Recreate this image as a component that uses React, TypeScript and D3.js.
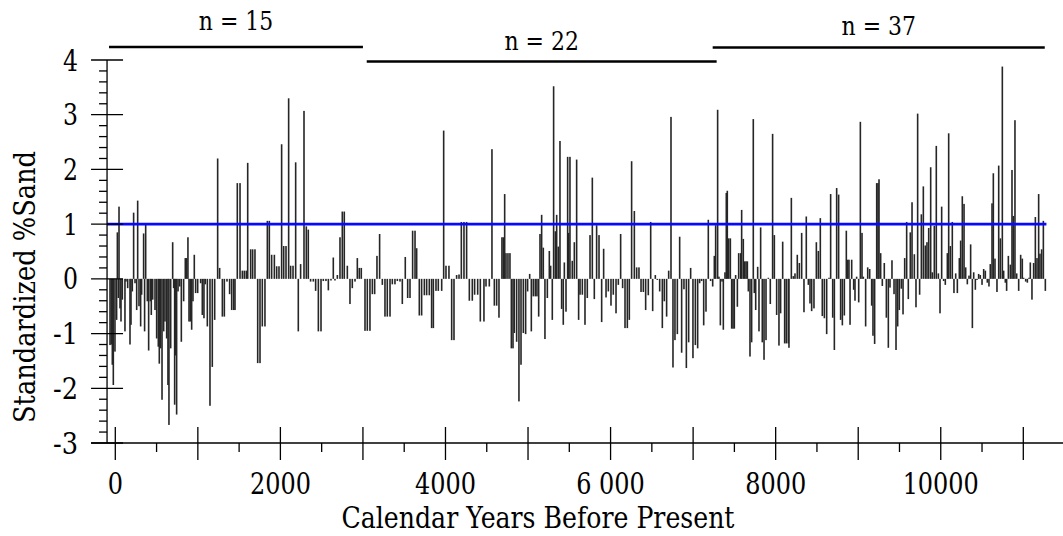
import React from "react";
import * as d3 from "d3";

// ---- data: years before present and standardized %sand ----
const years1 = [-64,-48,-36,-24,-4,16,25,37,45,57,69,85,117,129,150,178,190,206,222,239,259,271,287,307,319,343,355,368,388,404,424,436,453,481,501,521,533,549,566,586,602,622,638,650,671,695,707,719,731,743,760,780,800,828,848,864,880,893,909,925,941,957,973,998,1034,1054,1074,1090,1115,1147,1175,1204,1240,1264,1297,1321,1353,1385,1410,1434,1450];
const sand1 = [-1.21,-1.2,-1.57,-1.94,-1.33,-0.75,0.85,-0.35,1.32,-0.54,-0.78,-0.38,-0.96,-0.05,-0.17,-1.2,-0.84,-0.23,1.21,-0.08,-0.57,1.43,-0.5,-0.87,-0.29,0.83,-0.96,0.99,-0.41,-1.31,-0.41,-0.66,-0.38,-0.57,-1.09,-1.24,-1.55,-1.27,-2.21,-0.96,-0.78,-1.09,-1.94,-2.67,-1.27,0.67,-0.17,-2.3,-1.4,-2.48,-0.23,-0.14,-1.15,-0.41,0.38,0.38,0.76,-0.78,-0.78,-0.93,-0.41,0.44,-0.26,-0.26,-0.08,-0.66,-0.72,-0.1,-0.87,-2.32,-1.61,-0.75,2.2,0.2,-0.69,-0.69,-0.05,-0.28,-0.57,-0.57,-0.57];

const years2 = [1478,1511,1539,1563,1587,1604,1640,1664,1692,1725,1753,1781,1813,1842,1866,1894,1927,1955,1983,2015,2040,2068,2100,2124,2153,2185,2217,2245,2286,2314,2338,2366,2399,2427,2460,2492,2520,2552,2581,2613,2641,2661,2690,2722,2750,2774];
const sand2 = [1.75,1.75,0.15,0.15,0.15,2.12,0.54,0.54,0.54,-1.54,-1.54,-0.87,-0.87,1.06,1.06,0.44,0.44,0.23,0.23,2.46,0.6,0.6,3.3,0.24,0.24,2.13,-0.96,0.27,3.07,0.96,0.9,-0.05,-0.05,-0.22,-0.96,-0.96,-0.04,-0.04,-0.21,-0.03,0.39,-0.03,0.07,0.76,1.23,1.23];

const years3 = [2811,2843,2871,2904,2932,2956,2980,3025,3053,3085,3114,3142,3170,3202,3235,3267,3295,3328,3356,3388,3417,3449,3477,3513,3542,3570,3602,3631,3651,3683,3711,3744,3772,3804,3832,3853,3885,3913,3954,3978,4006,4042,4075,4103,4135,4164,4192,4224,4256,4289,4325,4353,4390,4422,4466,4491,4531,4563,4592,4620,4648,4684,4701,4717,4733,4757,4781,4798,4818,4834,4862,4890,4915,4943,4971,4995,5020,5040,5064,5088,5108,5129,5145,5165,5185,5205,5234,5258,5274,5294,5310,5331,5347,5367,5387,5407,5427,5440,5460,5480,5492,5508,5536,5561,5589,5613];
const sand3 = [0.24,-0.46,-0.17,-0.05,0.38,0.2,0.2,-0.95,-0.95,-0.95,-0.28,-0.28,0.42,0.82,-0.11,-0.69,-0.69,-0.69,-0.1,-0.1,-0.04,-0.05,-0.46,0.4,-0.35,-0.35,0.88,0.88,0.56,-0.67,-0.67,-0.3,-0.3,-0.3,-0.9,-0.9,-0.22,-0.22,-0.22,2.71,0.24,0.24,-1.12,-1.12,0.07,0.08,1.04,1.04,1.04,-0.4,-0.4,-0.29,-0.29,-0.78,-0.78,-0.14,-0.14,2.37,-0.49,-0.49,-0.71,0.76,0.76,1.55,0.47,0.47,0.47,-1.27,-1.27,-0.99,-1.15,-2.24,-1.57,-0.99,-1.01,-0.23,0.09,-0.96,-0.32,-0.32,-0.32,-0.69,0.82,1.17,0.57,-1.1,-0.35,0.51,0.24,-0.75,3.52,0.87,1.17,0.59,2.52,-0.55,-0.84,0.3,-0.6,2.23,0.84,2.23,0.33,0.67,2.18,-0.75];

const years4 = [5630,5658,5690,5718,5751,5779,5803,5831,5860,5892,5916,5945,5973,6005,6033,6066,6094,6122,6146,6175,6203,6227,6255,6288,6316,6344,6369,6397,6425,6457,6486,6510,6542,6566,6595,6627,6651,6679,6704,6732,6756,6780,6809,6837,6861,6889,6918,6946,6970,6998,7027,7055,7079,7103,7128,7156,7184,7212,7237,7257,7273,7297,7313,7330,7350,7366,7386,7402,7414,7431,7451,7467,7483,7499,7515,7536,7552,7576,7588,7608,7624,7641,7657,7669,7689,7709,7729,7741,7758,7782,7798,7818,7838,7859,7883,7911,7935,7963,7984,8012,8040,8060,8085,8109,8129,8153,8161,8190,8214,8234,8262,8287,8315,8343,8371,8396];
const sand4 = [-0.29,-0.29,-0.84,-0.35,0.8,1.85,-0.37,0.98,0.8,-0.79,0.55,-0.34,-0.23,-0.49,-0.29,-0.63,-0.11,0.82,-0.17,-0.9,-0.9,-0.75,2.15,1.24,0.21,0.21,-0.24,-0.24,-0.57,-0.3,1.04,-0.59,0.07,-0.02,-0.23,-0.9,-0.41,-0.69,0.15,2.96,-1.62,-1.12,-1.01,0.77,-1.35,-0.19,-1.63,-1.16,0.2,-1.45,-1.21,-1.27,-0.08,-0.04,-0.85,-0.6,1.08,-0.04,-0.14,0.42,0.98,3.09,0.04,-0.85,-0.05,-0.93,0.12,1.57,1.61,0.74,0.74,-0.91,-0.91,-0.91,0.07,-0.51,0.47,0.47,1.26,0.73,0.32,0.32,0.32,-0.23,-1.42,-1.16,2.92,-0.26,-0.57,0.22,-0.96,0.94,-1.16,-1.48,-1.12,0.02,-0.46,2.65,0.8,-0.66,-1.22,-0.63,0.68,-1.18,-1.18,-1.18,-1.26,1.48,0.05,0.1,0.44,0.29,0.84,-0.61,1.14,-0.11];

const years5 = [8416,8436,8464,8493,8517,8541,8565,8590,8618,8646,8666,8691,8711,8739,8763,8787,8808,8832,8856,8872,8888,8901,8921,8945,8961,8981,9006,9026,9046,9062,9090,9115,9139,9163,9179,9199,9224,9240,9252,9272,9292,9316,9341,9365,9385,9409,9434,9458,9478,9498,9522,9543,9563,9587,9607,9631,9652,9680,9700,9720,9744,9765,9789,9813,9833,9854,9878,9898,9922,9946,9971,9991,10011,10035,10055,10080,10096,10116,10140,10160,10181,10201,10225,10241,10261,10282,10302,10322,10342,10362,10383,10399,10419,10439,10459,10479,10500,10520,10540,10564,10584,10600,10621,10637,10657,10681,10702,10722,10746,10762,10782,10798,10819,10843,10863,10879,10899,10920,10944,10968,10988,11004,11029,11049,11069,11085,11105,11125,11146,11166,11186,11202,11222,11243,11267];
const sand5 = [-0.45,-0.59,-0.54,0.67,0.51,1.11,-0.68,-0.72,-1.01,0.02,1.55,-0.71,-1.3,1.66,1.54,-0.75,-0.85,-0.67,0.88,0.35,0.35,-0.84,0.35,-0.2,-0.4,0.04,-0.43,2.87,0.84,0.04,-0.87,0.21,0.18,-0.49,-1.04,-1.19,1.75,1.75,1.82,0.47,-0.13,0.29,-0.71,-1.26,-0.16,0.34,-0.28,-1.3,-0.87,-0.57,-0.18,-0.65,0.38,1.04,-0.37,0.85,1.4,0.45,-0.52,3.02,-0.29,1.18,1.69,0.61,0.67,0.93,2.04,0.12,0.97,2.43,0.1,-0.63,1.32,-0.04,-0.11,0.47,2.66,0.6,1.04,-0.26,0.1,-0.26,0.38,0.7,1.51,1.37,0.21,-0.1,0.06,0.63,-0.9,0.12,-0.2,-0.02,0.09,0.07,-0.11,0.18,0.15,-0.07,-0.14,0.27,1.38,1.93,0.37,-0.24,2.07,0.74,3.88,0.15,-0.07,-0.22,0.42,0.26,1.99,1.15,2.9,0.1,-0.22,0.44,0.37,0.02,-0.05,-0.07,0.02,0.3,-0.38,0.29,1.13,0.38,1.55,0.46,0.54,1.06,-0.22];

const yTickValues = [-3, -2, -1, 0, 1, 2, 3, 4];
const xLabelValues = [0, 2000, 4000, 6000, 8000, 10000];
const xTickLabels = ["0", "2000", "4000", "6 000", "8000", "10000"];

const segStart = [-76, 3046, 7237];
const segEnd = [3000, 7285, 11260];
const segLabel = ["n = 15", "n = 22", "n = 37"];

const threshold = 1;
const xTitle = "Calendar Years Before Present";
const yTitle = "Standardized %Sand";

// Times-style advance widths (per 1000 em) used to size the serif text
const TIMES_W: Record<string, number> = {
  " ": 250, "%": 833, "-": 333, "=": 564,
  "0": 500, "1": 500, "2": 500, "3": 500, "4": 500, "5": 500, "6": 500, "7": 500, "8": 500, "9": 500,
  C: 667, Y: 722, B: 667, P: 556, S: 556,
  a: 444, d: 500, e: 444, f: 333, i: 278, l: 278, n: 500, o: 500, r: 333, s: 389, t: 278, z: 444,
};
function timesWidth(s: string, size: number) {
  let w = 0;
  for (const c of s) w += TIMES_W[c] ?? 500;
  return (w / 1000) * size;
}

export default function App() {
  const W = 1063;
  const H = 536;
  const FONT = "DejaVu Serif, serif";
  const fs = { fontFamily: FONT };

  const x = d3.scaleLinear().domain([0, 11000]).range([115.3, 1023.3]);
  const y = d3.scaleLinear().domain([-3, 4]).range([443, 60]);

  const years = [...years1, ...years2, ...years3, ...years4, ...years5];
  const sand = [...sand1, ...sand2, ...sand3, ...sand4, ...sand5];

  const axisX = x(-100); // y-axis position
  const axisY = y(-3); // x-axis position
  const plotRight = x(11280);

  const majorX = d3.range(0, 11001, 1000);
  const minorX = d3.range(500, 11000, 1000);
  const minorY = d3.range(-3, 4.0001, 0.2).filter((v) => Math.abs(v - Math.round(v)) > 1e-6);

  const segLineY = [47, 61.5, 47.5];
  const segTextY = [30, 50, 35];

  const barW = 1.6;

  return (
    <svg
      width={W}
      height={H}
      style={{ position: "absolute", left: 0, top: 0, background: "#fff", fontFamily: FONT }}
    >
      <rect x={0} y={0} width={W} height={H} fill="#fff" />

      {/* bars */}
      <g fill="#262626">
        {years.map((yr, i) => {
          const v = sand[i];
          const y0 = y(0);
          const y1 = y(v);
          return (
            <rect
              key={i}
              x={x(yr) - barW / 2}
              y={Math.min(y0, y1)}
              width={barW}
              height={Math.max(0.8, Math.abs(y1 - y0))}
            />
          );
        })}
      </g>

      {/* threshold line */}
      <line
        x1={axisX}
        x2={plotRight}
        y1={y(threshold)}
        y2={y(threshold)}
        stroke="#0808ff"
        strokeWidth={2.6}
      />

      {/* y axis */}
      <g stroke="#000" strokeWidth={1.3}>
        <line x1={axisX} x2={axisX} y1={y(4)} y2={axisY} />
        {yTickValues.map((v) => (
          <line key={"ym" + v} x1={axisX - 16} x2={axisX + 16} y1={y(v)} y2={y(v)} />
        ))}
        {minorY.map((v, i) => (
          <line key={"yn" + i} x1={axisX - 8} x2={axisX} y1={y(v)} y2={y(v)} />
        ))}
      </g>
      <g fontSize={29} textAnchor="end" fill="#000">
        {yTickValues.map((v) => (
          <text
            key={"yl" + v}
            x={78}
            y={y(v) + 10.5}
            style={fs}
            textLength={timesWidth(String(v), 30)}
            lengthAdjust="spacingAndGlyphs"
          >
            {String(v)}
          </text>
        ))}
      </g>

      {/* x axis */}
      <g stroke="#000" strokeWidth={1.3}>
        <line x1={axisX - 16} x2={W} y1={axisY} y2={axisY} />
        {majorX.map((v) => (
          <line key={"xm" + v} x1={x(v)} x2={x(v)} y1={axisY - 16} y2={axisY + 17} />
        ))}
        {minorX.map((v) => (
          <line key={"xn" + v} x1={x(v)} x2={x(v)} y1={axisY} y2={axisY + 9} />
        ))}
      </g>
      <g fontSize={29} textAnchor="middle" fill="#000">
        {xLabelValues.map((v, i) => (
          <text
            key={"xl" + v}
            x={x(v)}
            y={494}
            style={fs}
            textLength={timesWidth(xTickLabels[i], 30.5)}
            lengthAdjust="spacingAndGlyphs"
          >
            {xTickLabels[i]}
          </text>
        ))}
      </g>

      {/* axis titles */}
      <text
        x={538}
        y={528}
        fontSize={29}
        textAnchor="middle"
        fill="#000"
        style={fs}
        textLength={393}
        lengthAdjust="spacingAndGlyphs"
      >
        {xTitle}
      </text>
      <text
        transform={`translate(35, 287) rotate(-90)`}
        fontSize={30}
        textAnchor="middle"
        fill="#000"
        style={fs}
        textLength={272}
        lengthAdjust="spacingAndGlyphs"
      >
        {yTitle}
      </text>

      {/* sample count segments */}
      {segStart.map((s, i) => (
        <g key={"seg" + i}>
          <line
            x1={x(s)}
            x2={x(segEnd[i])}
            y1={segLineY[i]}
            y2={segLineY[i]}
            stroke="#000"
            strokeWidth={2.6}
          />
          <text
            x={(x(s) + x(segEnd[i])) / 2}
            y={segTextY[i]}
            fontSize={26}
            textAnchor="middle"
            fill="#000"
            style={fs}
            textLength={timesWidth(segLabel[i], 29)}
            lengthAdjust="spacingAndGlyphs"
          >
            {segLabel[i]}
          </text>
        </g>
      ))}
    </svg>
  );
}
